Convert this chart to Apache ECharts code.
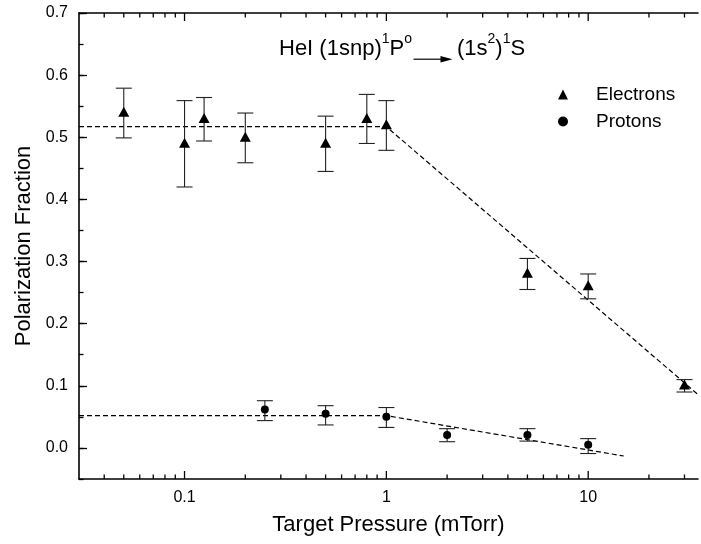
<!DOCTYPE html>
<html>
<head>
<meta charset="utf-8">
<script src="https://cdn.jsdelivr.net/npm/echarts@6/dist/echarts.min.js"></script>
<style>
  html, body { margin: 0; padding: 0; background: #fff; }
  #chart { width: 701px; height: 544px; }
</style>
</head>
<body>
<div id="chart"></div>
<script>
// Pressure dependence of HeI (1snp)1P -> (1s2)1S polarization
const electronX    = [0.05, 0.1, 0.125, 0.2, 0.5, 0.8, 1, 5, 10, 30];
const electronY    = [0.541, 0.491, 0.531, 0.501, 0.491, 0.531, 0.521, 0.282, 0.262, 0.102];
const electronLow  = [0.499, 0.420, 0.494, 0.459, 0.445, 0.490, 0.479, 0.255, 0.240, 0.090];
const electronHigh = [0.579, 0.559, 0.564, 0.539, 0.534, 0.569, 0.559, 0.305, 0.280, 0.110];

const protonX    = [0.25, 0.5, 1, 2, 5, 10];
const protonY    = [0.062, 0.055, 0.050, 0.021, 0.021, 0.005];
const protonLow  = [0.044, 0.037, 0.033, 0.010, 0.011, -0.009];
const protonHigh = [0.076, 0.068, 0.065, 0.031, 0.031, 0.015];

// Piecewise fits (flat, then falling off in log pressure)
const electronFitX = [0.03, 1, 35];
const electronFitY = [0.517, 0.517, 0.086];
const protonFitX   = [0.03, 1, 15];
const protonFitY   = [0.052, 0.052, -0.013];

// Axis ranges and tick marks
const xRange = [0.03, 35];
const yRange = [-0.05, 0.7];
const xMajorTicks = [0.1, 1, 10];
const xMinorTicks = [0.04, 0.05, 0.06, 0.07, 0.08, 0.09,
                     0.2, 0.3, 0.4, 0.5, 0.6, 0.7, 0.8, 0.9,
                     2, 3, 4, 5, 6, 7, 8, 9, 20, 30];
const yMajorTicks = [0, 0.1, 0.2, 0.3, 0.4, 0.5, 0.6, 0.7];
const yStep = 0.05;

const FONT = '"Liberation Sans", Arial, Helvetica, sans-serif';
const INK = '#000';

const chart = echarts.init(document.getElementById('chart'), null, { renderer: 'canvas' });

function zip(a, b) { return a.map((v, i) => [v, b[i]]); }

// Inward x tick marks drawn as thin rectangles anchored on the frame edges
function tickMarks(points, size, offset) {
  return {
    type: 'scatter', silent: true, clip: false, z: 5,
    data: points, symbol: 'rect', symbolSize: size, symbolOffset: offset,
    itemStyle: { color: INK, opacity: 1 }
  };
}
const TW = 1.3;      // tick line width
const MAJ = 8, MIN = 4.5;

function errorSeries(xs, lows, highs) {
  return {
    type: 'custom', silent: true, z: 3,
    data: xs.map((x, i) => [x, lows[i], highs[i]]),
    encode: { x: 0, y: [1, 2] },
    renderItem: function (params, api) {
      const lo = api.coord([api.value(0), api.value(1)]);
      const hi = api.coord([api.value(0), api.value(2)]);
      const hw = 8;
      const style = { stroke: '#222', lineWidth: 1.1 };
      return {
        type: 'group',
        children: [
          { type: 'line', shape: { x1: lo[0], y1: lo[1], x2: hi[0], y2: hi[1] }, style: style },
          { type: 'line', shape: { x1: hi[0] - hw, y1: hi[1], x2: hi[0] + hw, y2: hi[1] }, style: style },
          { type: 'line', shape: { x1: lo[0] - hw, y1: lo[1], x2: lo[0] + hw, y2: lo[1] }, style: style }
        ]
      };
    }
  };
}

const supStyle = { fontFamily: FONT, fontSize: 14, fill: INK, padding: [0, 0, 20, 0] };
const mainStyle = { fontFamily: FONT, fontSize: 22, fill: INK };

const option = {
  animation: false,
  backgroundColor: '#fff',
  grid: { left: 79, top: 13, right: 0, bottom: 65, containLabel: false },
  xAxis: [
    {
      type: 'log', logBase: 10, min: xRange[0], max: xRange[1],
      position: 'bottom',
      name: 'Target Pressure (mTorr)', nameLocation: 'middle', nameGap: 35,
      nameTextStyle: { fontFamily: FONT, fontSize: 22, color: INK },
      axisLine: { show: true, onZero: false, lineStyle: { color: INK, width: 1.6 } },
      axisTick: { show: false },
      splitLine: { show: false },
      axisLabel: {
        margin: 11, fontFamily: FONT, fontSize: 16, color: INK,
        formatter: function (v) {
          const hit = xMajorTicks.find(t => Math.abs(t - v) / t < 1e-6);
          return hit === undefined ? '' : String(hit);
        }
      }
    },
    {
      type: 'log', logBase: 10, min: xRange[0], max: xRange[1],
      position: 'top',
      axisLine: { show: true, onZero: false, lineStyle: { color: INK, width: 1.6 } },
      axisTick: { show: false }, axisLabel: { show: false }, splitLine: { show: false }
    }
  ],
  yAxis: [
    {
      type: 'value', min: yRange[0], max: yRange[1], interval: yStep,
      position: 'left',
      name: 'Polarization Fraction', nameLocation: 'middle', nameGap: 43,
      nameTextStyle: { fontFamily: FONT, fontSize: 22, color: INK },
      axisLine: { show: true, onZero: false, lineStyle: { color: INK, width: 1.6 } },
      axisTick: { show: true, inside: true, length: MIN, lineStyle: { color: INK, width: TW } },
      splitLine: { show: false },
      axisLabel: {
        margin: 11, fontFamily: FONT, fontSize: 16, color: INK,
        formatter: function (v) {
          const r = Math.round(v * 10) / 10;
          return (Math.abs(v - r) < 1e-6 && v > -1e-6) ? r.toFixed(1) : '';
        }
      }
    },
    {
      // longer ticks at the labelled values
      type: 'value', min: yRange[0], max: yRange[1], interval: yStep,
      position: 'left', offset: 0,
      axisLine: { show: false, onZero: false },
      axisTick: { show: true, inside: true, length: MAJ, customValues: yMajorTicks,
                  lineStyle: { color: INK, width: TW } },
      axisLabel: { show: false },
      splitLine: { show: false }
    }
  ],
  legend: {
    orient: 'vertical', left: 553, top: 80,
    itemWidth: 10, itemHeight: 10, itemGap: 8,
    symbolKeepAspect: true,
    textStyle: { fontFamily: FONT, fontSize: 19, color: INK, padding: [0, 0, 0, 23] },
    data: ['Electrons', 'Protons']
  },
  graphic: [
    {
      type: 'text', left: 279, top: 32, z: 10,
      style: {
        text: '{n|HeI (1snp)}{s|1}{n|P}{s|o}',
        rich: { n: mainStyle, s: supStyle }
      }
    },
    {
      type: 'group', left: 411, top: 56, z: 10,
      children: [
        { type: 'line', shape: { x1: 0, y1: 4, x2: 30, y2: 4 }, style: { stroke: INK, lineWidth: 1.2 } },
        { type: 'polygon', shape: { points: [[27, 0.8], [39, 4], [27, 7.2]] }, style: { fill: INK } }
      ]
    },
    {
      type: 'text', left: 457, top: 32, z: 10,
      style: {
        text: '{n|(1s}{s|2}{n|)}{s|1}{n|S}',
        rich: { n: mainStyle, s: supStyle }
      }
    }
  ],
  series: [
    // bottom edge
    tickMarks(xMinorTicks.map(v => [v, yRange[0]]), [TW, MIN], [0, -MIN / 2]),
    tickMarks(xMajorTicks.map(v => [v, yRange[0]]), [TW, MAJ], [0, -MAJ / 2]),
    // top edge
    tickMarks(xMinorTicks.map(v => [v, yRange[1]]), [TW, MIN], [0, MIN / 2]),
    tickMarks(xMajorTicks.map(v => [v, yRange[1]]), [TW, MAJ], [0, MAJ / 2]),
    {
      type: 'line', name: 'Electron fit', data: zip(electronFitX, electronFitY),
      symbol: 'none', silent: true, z: 2,
      lineStyle: { color: INK, width: 1.2, type: [5, 3] }
    },
    {
      type: 'line', name: 'Proton fit', data: zip(protonFitX, protonFitY),
      symbol: 'none', silent: true, z: 2,
      lineStyle: { color: INK, width: 1.2, type: [5, 3] }
    },
    errorSeries(electronX, electronLow, electronHigh),
    errorSeries(protonX, protonLow, protonHigh),
    {
      type: 'scatter', name: 'Electrons', data: zip(electronX, electronY),
      symbol: 'triangle', symbolSize: [11, 10], z: 4,
      itemStyle: { color: INK, opacity: 1 }
    },
    {
      type: 'scatter', name: 'Protons', data: zip(protonX, protonY),
      symbol: 'circle', symbolSize: 8, z: 4,
      itemStyle: { color: INK, opacity: 1 }
    }
  ]
};

chart.setOption(option);
</script>
</body>
</html>
